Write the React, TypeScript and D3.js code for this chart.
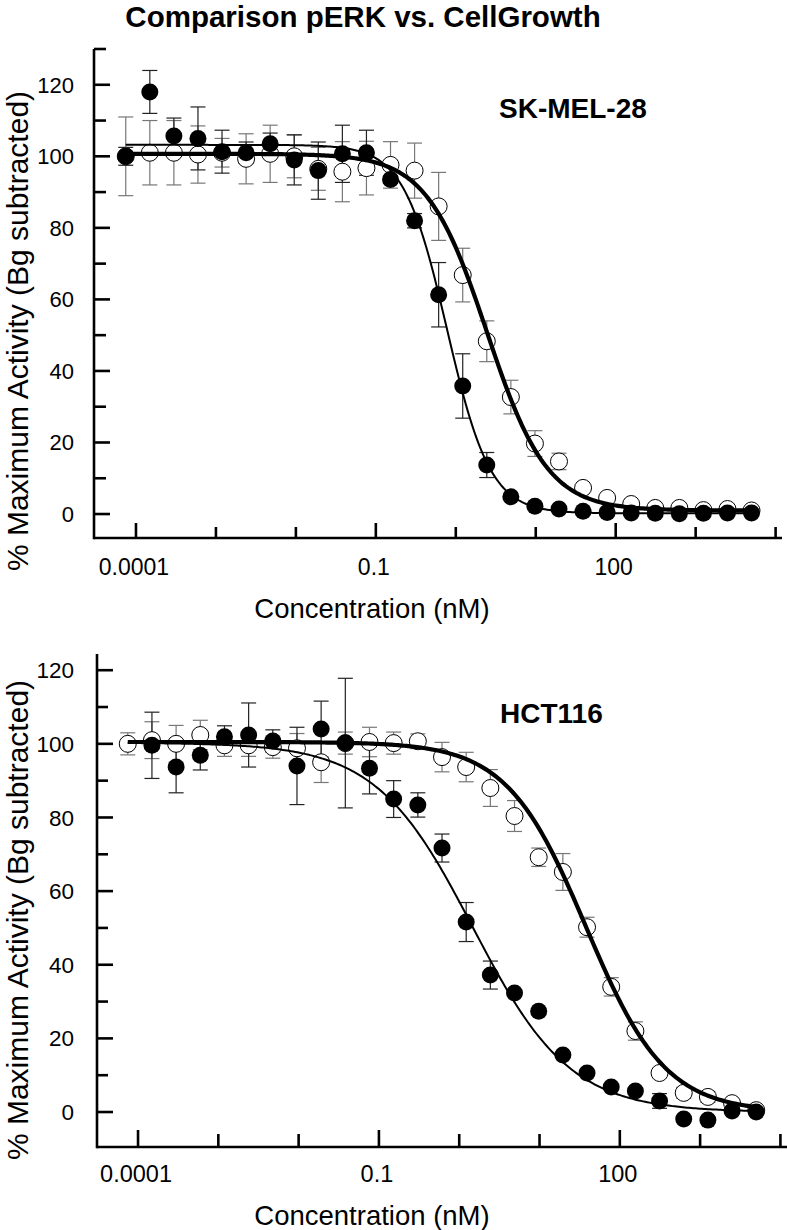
import React from 'react';
import * as d3 from 'd3';

// ---------- data ----------
const concentrations = [
  0.0000745, 0.000149, 0.000298, 0.000596, 0.001192, 0.002384, 0.004768, 0.009537,
  0.01907, 0.03815, 0.0763, 0.1526, 0.3052, 0.6104, 1.221, 2.441, 4.883, 9.766,
  19.53, 39.06, 78.13, 156.3, 312.5, 625, 1250, 2500, 5000,
];

// SK-MEL-28
const skFilled = [100, 118, 105.7, 105, 101.3, 101, 103.5, 99, 96, 100.7, 101, 93.5, 82, 61.3, 35.8, 13.7, 4.8, 2.2, 1.4, 0.8, 0.4, 0.3, 0.2, 0.1, 0.2, 0.3, 0.3];
const skFilledErr = [2.5, 6, 5, 8.8, 6, 3, 3, 7, 8, 8, 6.3, 1, 2, 9, 9, 3.5, 0, 0, 0, 0, 0, 0, 0, 0, 0, 0, 0];
const skOpen = [100, 101, 101, 100.5, 101, 99.3, 100.7, 100, 96.5, 95.7, 96.7, 97.6, 96, 86, 66.8, 48.3, 32.7, 19.7, 14.7, 7.3, 4.5, 2.8, 1.7, 1.7, 1.1, 1.4, 1.0];
const skOpenErr = [11, 9, 9, 8, 4, 7, 8, 6, 6, 8.4, 7.5, 6.5, 7.7, 9.5, 7.5, 5.7, 4.7, 3.6, 2.3, 0, 0, 0, 0, 0, 0, 0, 0];

// HCT116
const hctFilled = [null, 99.6, 93.7, 96.9, 101.9, 102.4, 100.8, 94, 104, 100.2, 93.4, 85, 83.4, 71.7, 51.6, 37.2, 32.3, 27.4, 15.5, 10.6, 6.8, 5.7, 3, -1.9, -2.2, 0.3, 0];
const hctFilledErr = [0, 9, 7, 4, 3, 8.7, 3, 10.5, 7.6, 17.6, 7, 5, 3.3, 3.8, 5.3, 3.8, 0, 0, 0, 0, 0, 0, 2, 0, 0, 0, 0];
const hctOpen = [100, 101, 100, 102.4, 99.6, 99.6, 99.1, 98.8, 95, 100.2, 100.5, 100.2, 100.7, 96.4, 93.7, 88, 80.4, 69.2, 65.2, 50.2, 34, 22, 10.6, 5.2, 4.1, 2.4, 0.5];
const hctOpenErr = [3, 5, 5, 4, 3, 3, 3, 4, 5.5, 3, 4, 3, 2, 4, 4, 5, 4.2, 2.5, 5, 2.7, 2.5, 2.5, 0, 1.5, 1.5, 0.5, 0];

// fitted 4-parameter logistic curves
const skFilledFit = { top: 103.2, bottom: 0.2, logIC50: -0.11, hill: 1.6 };
const skOpenFit = { top: 100.7, bottom: 1.0, logIC50: 0.39, hill: 1.15 };
const hctFilledFit = { top: 100.3, bottom: 0, logIC50: 0.17, hill: 0.72 };
const hctOpenFit = { top: 100.5, bottom: 0, logIC50: 1.58, hill: 0.88 };

const xTicks = [1e-4, 1e-3, 1e-2, 1e-1, 1, 10, 100, 1000, 10000];
const xTickLabels = ['0.0001', '', '', '0.1', '', '', '100', '', ''];
const yMajorTicks = [0, 20, 40, 60, 80, 100, 120];
const yMinorTicks = [10, 30, 50, 70, 90, 110, 130];

const titleText = 'Comparison pERK vs. CellGrowth';
const xLabel = 'Concentration (nM)';
const yLabel = '% Maximum Activity (Bg subtracted)';

const FONT = "'Liberation Sans', Arial, Helvetica, sans-serif";

type Fit = { top: number; bottom: number; logIC50: number; hill: number };

type PanelProps = {
  name: string;
  xDomain: [number, number];
  xRange: [number, number];
  yDomain: [number, number];
  yRange: [number, number];
  filled: (number | null)[];
  filledErr: number[];
  open: number[];
  openErr: number[];
  filledFit: Fit;
  openFit: Fit;
  tickFont: number;
  majorX: number;
  minorX: number;
  majorY: number;
  minorY: number;
  yLabelRight: number;
  xLabelBaseline: number;
  xAxisLabelBaseline: number;
  nameX: number;
  nameY: number;
  yLabelCenter: number;
};

function fitPath(fit: Fit, x: d3.ScaleLogarithmic<number, number>, y: d3.ScaleLinear<number, number>) {
  const lo = Math.log10(concentrations[0]);
  const hi = Math.log10(concentrations[concentrations.length - 1]);
  const pts: [number, number][] = d3.range(0, 301).map((k) => {
    const lc = lo + ((hi - lo) * k) / 300;
    const v = fit.bottom + (fit.top - fit.bottom) / (1 + Math.pow(10, fit.hill * (lc - fit.logIC50)));
    return [x(Math.pow(10, lc)), y(v)];
  });
  return d3.line()(pts) || '';
}

function Panel(p: PanelProps) {
  const x = d3.scaleLog().domain(p.xDomain).range(p.xRange);
  const y = d3.scaleLinear().domain(p.yDomain).range(p.yRange);
  const x0 = p.xRange[0];
  const yb = p.yRange[0];
  const cap = 7.5;
  const r = 8.5;

  const errBars = (vals: (number | null)[], errs: number[], color: string, key: string) =>
    vals.map((v, i) => {
      if (v == null || !errs[i]) return null;
      const cx = x(concentrations[i]);
      const y1 = y(v + errs[i]);
      const y2 = y(v - errs[i]);
      return (
        <g key={key + i} stroke={color} strokeWidth={1.2}>
          <line x1={cx} x2={cx} y1={y1} y2={y2} />
          <line x1={cx - cap} x2={cx + cap} y1={y1} y2={y1} />
          <line x1={cx - cap} x2={cx + cap} y1={y2} y2={y2} />
        </g>
      );
    });

  return (
    <g>
      {/* axes */}
      <line x1={x0} x2={x0} y1={p.yRange[1]} y2={yb + 1.25} stroke="#000" strokeWidth={2.6} />
      <line x1={x0} x2={p.xRange[1]} y1={yb} y2={yb} stroke="#000" strokeWidth={2.6} />
      {yMajorTicks.map((t) => (
        <g key={'ym' + t}>
          <line x1={x0} x2={x0 + p.majorY} y1={y(t)} y2={y(t)} stroke="#000" strokeWidth={2.6} />
          <text x={p.yLabelRight} y={y(t) + p.tickFont * 0.36} textAnchor="end" fontSize={p.tickFont} fontFamily={FONT}>
            {t}
          </text>
        </g>
      ))}
      {yMinorTicks
        .filter((t) => t <= p.yDomain[1] + 0.5)
        .map((t) => (
          <line key={'yn' + t} x1={x0} x2={x0 + p.minorY} y1={y(t)} y2={y(t)} stroke="#000" strokeWidth={2.6} />
        ))}
      {xTicks.map((t, i) => {
        const major = xTickLabels[i] !== '';
        return (
          <g key={'xt' + i}>
            <line x1={x(t)} x2={x(t)} y1={yb} y2={yb - (major ? p.majorX : p.minorX)} stroke="#000" strokeWidth={2.6} />
            {major && (
              <text x={x(t) - 2} y={p.xLabelBaseline} textAnchor="middle" fontSize={p.tickFont + 1} fontFamily={FONT}>
                {xTickLabels[i]}
              </text>
            )}
          </g>
        );
      })}
      <text x={372} y={p.xAxisLabelBaseline} textAnchor="middle" fontSize={27.5} fontFamily={FONT}>
        {xLabel}
      </text>
      <text
        transform={`translate(${27.5},${p.yLabelCenter}) rotate(-90)`}
        textAnchor="middle"
        fontSize={30}
        fontFamily={FONT}
      >
        {yLabel}
      </text>
      <text x={p.nameX} y={p.nameY} fontSize={28} fontWeight="bold" fontFamily={FONT}>
        {p.name}
      </text>

      {/* error bars */}
      {errBars(p.open, p.openErr, '#777', 'eo')}
      {errBars(p.filled, p.filledErr, '#222', 'ef')}

      {/* open circles */}
      {p.open.map((v, i) => (
        <circle key={'o' + i} cx={x(concentrations[i])} cy={y(v)} r={r} fill="#fff" stroke="#000" strokeWidth={1} />
      ))}
      {/* filled circles */}
      {p.filled.map((v, i) =>
        v == null ? null : <circle key={'f' + i} cx={x(concentrations[i])} cy={y(v)} r={r} fill="#000" />
      )}

      {/* fitted curves */}
      <path d={fitPath(p.openFit, x, y)} fill="none" stroke="#000" strokeWidth={4.2} />
      <path d={fitPath(p.filledFit, x, y)} fill="none" stroke="#000" strokeWidth={2} />
    </g>
  );
}

export default function App() {
  return (
    <svg
      width={787}
      height={1230}
      viewBox="0 0 787 1230"
      style={{ position: 'absolute', left: 0, top: 0, background: '#fff' }}
    >
      <rect x={0} y={0} width={787} height={1230} fill="#fff" />
      <text x={363} y={27} textAnchor="middle" fontSize={29.5} fontWeight="bold" fontFamily={FONT}>
        {titleText}
      </text>
      <Panel
        name="SK-MEL-28"
        xDomain={[Math.pow(10, -4.525), Math.pow(10, 4.08)]}
        xRange={[94, 782]}
        yDomain={[-6.7, 130]}
        yRange={[538, 49]}
        filled={skFilled}
        filledErr={skFilledErr}
        open={skOpen}
        openErr={skOpenErr}
        filledFit={skFilledFit}
        openFit={skOpenFit}
        tickFont={22}
        majorX={15}
        minorX={11}
        majorY={16}
        minorY={12}
        yLabelRight={74}
        xLabelBaseline={575}
        xAxisLabelBaseline={618}
        nameX={499}
        nameY={118}
        yLabelCenter={331}
      />
      <Panel
        name="HCT116"
        xDomain={[Math.pow(10, -4.511), Math.pow(10, 4.082)]}
        xRange={[97, 787]}
        yDomain={[-9.5, 124.4]}
        yRange={[1147, 654]}
        filled={hctFilled}
        filledErr={hctFilledErr}
        open={hctOpen}
        openErr={hctOpenErr}
        filledFit={hctFilledFit}
        openFit={hctOpenFit}
        tickFont={22.5}
        majorX={17}
        minorX={13}
        majorY={16}
        minorY={11}
        yLabelRight={74}
        xLabelBaseline={1182}
        xAxisLabelBaseline={1225}
        nameX={500}
        nameY={723}
        yLabelCenter={920}
      />
    </svg>
  );
}
